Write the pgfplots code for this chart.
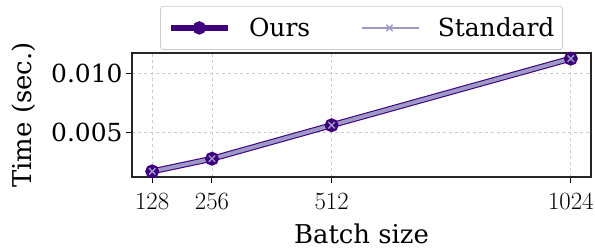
\documentclass[border=0pt]{standalone}
\usepackage{fontspec}
\setmainfont{DejaVu Serif}
\usepackage{pgfplots}
\pgfplotsset{compat=1.18}
\definecolor{ours}{HTML}{3F007D}
\definecolor{stdc}{HTML}{9E9AC8}
\definecolor{gridc}{HTML}{CCCCCC}
\begin{document}
\begin{tikzpicture}
\begin{axis}[
  scale only axis,
  width=459bp, height=124bp,
  xmin=84.8, xmax=1067.2,
  ymin=0.00118, ymax=0.01177,
  xtick={128,256,512,1024},
  /pgf/number format/1000 sep={},
  ytick={0.005,0.010},
  yticklabels={0.005,0.010},
  scaled y ticks=false,
  tick align=outside,
  tick pos=left,
  major tick length=6bp,
  every tick/.style={black, line width=1bp},
  axis line style={line width=1.1bp, black!85},
  grid=major,
  grid style={dashed, gridc, line width=0.8bp},
  xticklabel style={font=\fontsize{25}{28}\selectfont, yshift=-7bp},
  yticklabel style={font=\fontsize{25}{28}\selectfont},
  label style={font=\fontsize{26}{30}\selectfont},
  xlabel={Batch size},
  ylabel={Time (sec.)},
  xlabel style={at={(axis description cs:0.5,-0.535)}, anchor=base},
  ylabel style={at={(axis description cs:-0.2353,0.5)}, anchor=center},
  legend columns=2,
  legend style={
    at={(0.5,1.024)}, anchor=south,
    draw=gridc, rounded corners=3bp, line width=0.8bp,
    font=\fontsize{25}{30}\selectfont,
    inner xsep=8bp, inner ysep=9.5bp,
    nodes={inner xsep=0bp},
    /tikz/every odd column/.append style={column sep=18bp},
    /tikz/every even column/.append style={column sep=50bp},
  },
  legend image code/.code={
    \draw[mark repeat=2,mark phase=2] plot coordinates {(0bp,0bp)(28bp,0bp)(57bp,0bp)};
  },
]
\addplot[color=ours, line width=6bp, mark=*, mark size=3.8bp, mark options={solid},
  legend image post style={line width=5.5bp}]
  coordinates {(128,0.00166) (256,0.00274) (512,0.00560) (1024,0.01129)};
\addlegendentry{Ours}
\addplot[color=stdc, line width=3.8bp, mark=x, mark size=4.5bp, mark options={solid, line width=1.4bp},
  legend image post style={line width=2.6bp}]
  coordinates {(128,0.00166) (256,0.00274) (512,0.00560) (1024,0.01129)};
\addlegendentry{Standard}
\end{axis}
\pgfresetboundingbox
\path (-132bp,-72bp) rectangle (463bp,177bp);
\end{tikzpicture}
\end{document}
